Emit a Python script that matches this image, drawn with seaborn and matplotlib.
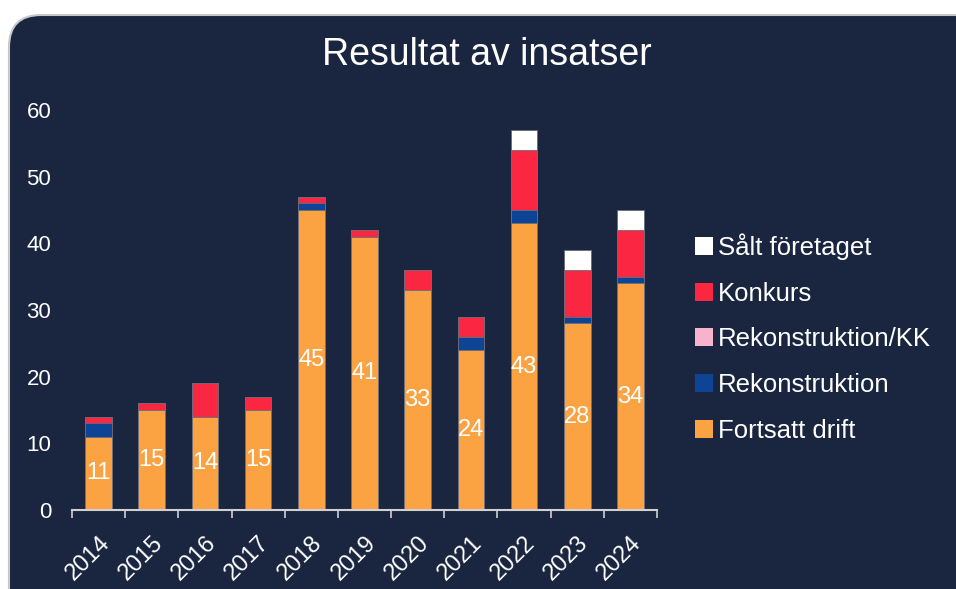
import matplotlib
matplotlib.use('Agg')
import matplotlib.pyplot as plt
from matplotlib.patches import FancyBboxPatch, Patch
import seaborn as sns
import pandas as pd

# Data
years = ['2014', '2015', '2016', '2017', '2018', '2019', '2020', '2021', '2022', '2023', '2024']
fortsatt_drift = [11, 15, 14, 15, 45, 41, 33, 24, 43, 28, 34]
rekonstruktion = [2, 0, 0, 0, 1, 0, 0, 2, 2, 1, 1]
rekonstruktion_kk = [0, 0, 0, 0, 0, 0, 0, 0, 0, 0, 0]
konkurs = [1, 1, 5, 2, 1, 1, 3, 3, 9, 7, 7]
salt_foretaget = [0, 0, 0, 0, 0, 0, 0, 0, 3, 3, 3]

series = ['Fortsatt drift', 'Rekonstruktion', 'Rekonstruktion/KK', 'Konkurs', 'Sålt företaget']
colors = {'Fortsatt drift': '#FBA243', 'Rekonstruktion': '#0E4496',
          'Rekonstruktion/KK': '#F7B3CB', 'Konkurs': '#FB2642',
          'Sålt företaget': '#FFFFFF'}

df = pd.DataFrame({'year': years,
                   'Fortsatt drift': fortsatt_drift,
                   'Rekonstruktion': rekonstruktion,
                   'Rekonstruktion/KK': rekonstruktion_kk,
                   'Konkurs': konkurs,
                   'Sålt företaget': salt_foretaget})

# cumulative stacks (drawn top layer first, then overdrawn)
cum = df[series].cumsum(axis=1)

sns.set_theme(style='white')
plt.rcParams['font.family'] = ['Liberation Sans', 'DejaVu Sans']

bg = '#1A2640'
fg = '#FFFFFF'

fig = plt.figure(figsize=(9.56, 5.89), dpi=100)
fig.patch.set_facecolor('white')

# rounded dark panel behind everything
bg_ax = fig.add_axes([0, 0, 1, 1], zorder=-10)
bg_ax.set_xlim(0, 956)
bg_ax.set_ylim(0, 589)
bg_ax.axis('off')
bg_ax.add_patch(FancyBboxPatch((9, -60), 1000, 634,
                               boxstyle='round,pad=0,rounding_size=32',
                               facecolor=bg, edgecolor='#C8C8C8', linewidth=1.5))

ax = fig.add_axes([72 / 956, 79 / 589, 585 / 956, 400 / 589])
ax.set_facecolor('none')

for name in reversed(series):
    sns.barplot(x=df['year'], y=cum[name], color=colors[name], width=0.5,
                edgecolor='#6B6B78', linewidth=0.6, saturation=1, ax=ax)

ax.bar_label(ax.containers[-1], labels=[str(v) for v in fortsatt_drift],
             label_type='center', color=fg, fontsize=17)

ax.set_xlim(-0.5, len(years) - 0.5)
ax.set_ylim(0, 60)
ax.set_yticks(range(0, 61, 10))
ax.set_xlabel('')
ax.set_ylabel('')

for s in ['top', 'right', 'left']:
    ax.spines[s].set_visible(False)
ax.spines['bottom'].set_color('#D0D0D0')
ax.spines['bottom'].set_linewidth(1.5)

ax.tick_params(axis='y', colors=fg, labelsize=16, length=0, pad=15)
ax.set_xticks(range(len(years)))
ax.set_xticklabels(years, rotation=45, ha='right', rotation_mode='anchor',
                   color=fg, fontsize=17)
ax.tick_params(axis='x', length=0, pad=16)
ax.set_xticks([i - 0.5 for i in range(len(years) + 1)], minor=True)
ax.tick_params(axis='x', which='minor', bottom=True, length=6, width=1.2,
               color='#D0D0D0', direction='out')

fig.text(487 / 956, 1 - 55 / 589, 'Resultat av insatser', ha='center', va='center',
         color=fg, fontsize=27)

handles = [Patch(facecolor=colors[n], edgecolor='none', label=n) for n in reversed(series)]
leg = fig.legend(handles=handles, loc='center left', bbox_to_anchor=(672 / 956, 1 - 338 / 589),
                 frameon=False, fontsize=18.5, handlelength=0.7, handleheight=0.7,
                 handletextpad=0.2, labelspacing=0.85, labelcolor=fg)

fig.savefig('out.png', dpi=100, facecolor=fig.get_facecolor())
